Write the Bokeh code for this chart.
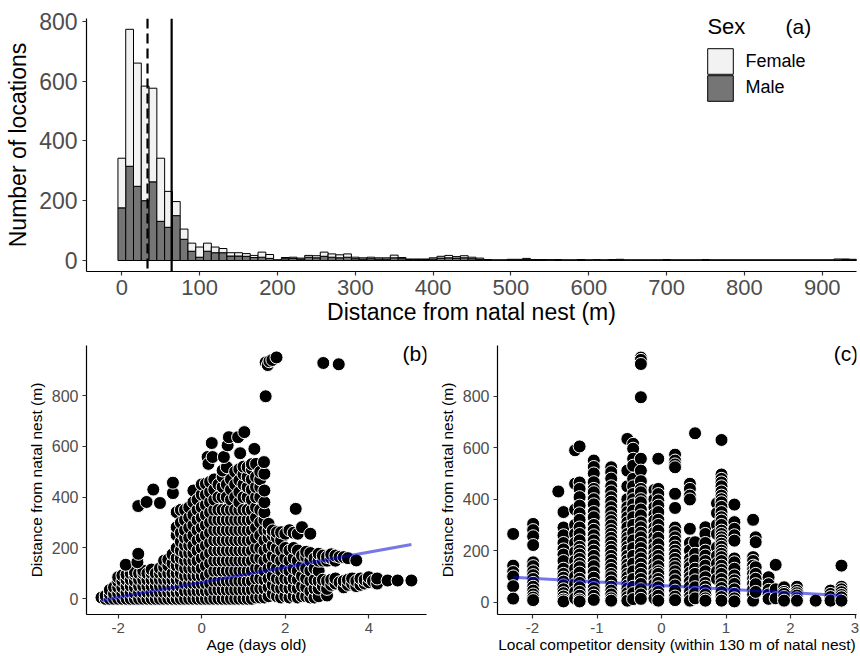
from bokeh.plotting import figure
from bokeh.models import Range1d, Span, Legend, LegendItem, Label, FixedTicker
from bokeh.layouts import column, row
from bokeh.embed import file_html
from bokeh.resources import INLINE

FONT = "Liberation Sans"
TICK_GRAY = "#4D4D4D"

# ---------------- Panel (a): stacked histogram ----------------
a_bin_centers = list(range(0, 950, 10))
a_female = [166, 458, 412, 383, 313, 211, 120, 47, 34, 27,
            34, 27, 19, 14, 11, 11, 9, 7, 17, 13,
            1, 4, 4, 3, 6, 7, 14, 11, 10, 11,
            5, 4, 5, 4, 4, 9, 4, 2, 2, 2,
            4, 6, 8, 5, 7, 5, 4, 1, 1, 1,
            2, 2, 4, 1, 1, 2, 1, 1, 1, 1,
            1, 2, 1, 1, 2, 1, 1, 1, 1, 1,
            1, 1, 1, 1, 1, 1, 1, 1, 1, 1,
            1, 1, 1, 1, 1, 1, 1, 1, 1, 1,
            1, 1, 3, 2, 2]
a_male = [176, 315, 248, 200, 263, 131, 111, 150, 71, 31,
          11, 31, 26, 26, 15, 15, 14, 10, 11, 7,
          1, 6, 7, 5, 11, 9, 14, 11, 9, 11,
          6, 5, 6, 5, 5, 9, 6, 3, 3, 3,
          5, 8, 9, 8, 9, 6, 4, 2, 1, 1,
          2, 2, 3, 2, 2, 1, 2, 1, 1, 2,
          1, 1, 1, 2, 2, 1, 1, 1, 1, 1,
          2, 1, 1, 1, 1, 2, 1, 1, 1, 1,
          1, 1, 1, 1, 1, 1, 1, 1, 1, 1,
          1, 1, 2, 3, 2]
a_binwidth = 10
a_median = 33
a_mean = 64
a_xticks = [0, 100, 200, 300, 400, 500, 600, 700, 800, 900]
a_yticks = [0, 200, 400, 600, 800]
a_sex = ["Female", "Male"]
a_fill = ["#F2F2F2", "#757575"]

# ---------------- Panel (b): age scatter ----------------
b_col_x = [-2.4, -2.3, -2.2, -2.1, -2.0, -1.9, -1.8, -1.7, -1.6, -1.5,
           -1.4, -1.3, -1.2, -1.1, -1.0, -0.9, -0.8, -0.7, -0.6, -0.5,
           -0.4, -0.3, -0.2, -0.1, 0.0, 0.1, 0.2, 0.3, 0.4, 0.5,
           0.6, 0.7, 0.8, 0.9, 1.0, 1.1, 1.2, 1.3, 1.4, 1.5,
           1.6, 1.7, 1.8, 1.9, 2.0, 2.1, 2.2, 2.3, 2.4, 2.5,
           2.6, 2.7, 2.8, 2.9, 3.0, 3.1, 3.2, 3.3, 3.4, 3.5,
           3.6, 3.7, 3.8, 3.9, 4.0, 4.1, 4.2, 4.45, 4.69, 5.02]
b_col_y = [
    [5], [0, 12], [0, 18, 35], [0, 20, 45], [0, 22, 45, 68, 85],
    [0, 22, 45, 70, 92], [0, 25, 50, 75, 95], [0, 25, 50, 75, 100],
    [0, 22, 45, 70, 95, 105], [0, 25, 50, 75, 100],
    [0, 25, 50, 75, 100, 110], [0, 25, 50, 75, 100], [0, 25, 50, 75, 100, 115],
    [0, 25, 50, 75, 100], [0, 25, 50, 75, 100, 120],
    [0, 25, 50, 75, 100, 125, 150], [0, 25, 50, 75, 100, 130, 155],
    [0, 25, 50, 75, 100, 140, 175],
    [0, 25, 50, 75, 100, 130, 160, 200, 250, 282, 341],
    [0, 25, 50, 75, 100, 130, 160, 190, 225, 260, 300, 350],
    [0, 30, 60, 90, 120, 150, 180, 210, 240, 270, 310, 350],
    [0, 30, 60, 90, 120, 150, 180, 210, 240, 280, 320, 360],
    [0, 30, 60, 90, 120, 150, 180, 210, 250, 290, 330, 380, 426],
    [0, 30, 60, 90, 120, 150, 190, 230, 270, 310, 350, 390],
    [0, 30, 60, 90, 120, 160, 200, 240, 280, 320, 360, 410, 450],
    [0, 30, 60, 90, 130, 170, 210, 250, 290, 330, 370, 410, 453],
    [0, 30, 60, 100, 140, 180, 220, 260, 300, 340, 380, 420, 460],
    [0, 35, 70, 110, 150, 190, 230, 270, 310, 350, 390, 430, 470],
    [0, 35, 70, 110, 150, 190, 230, 270, 310, 350, 400, 450],
    [0, 35, 70, 110, 150, 190, 230, 270, 310, 350, 400, 440, 480, 505],
    [0, 35, 70, 110, 150, 190, 230, 270, 310, 350, 400, 450, 518],
    [0, 35, 70, 110, 150, 190, 230, 270, 310, 350, 390, 430, 470],
    [0, 35, 70, 110, 150, 190, 230, 270, 310, 350, 400, 450, 500],
    [0, 35, 70, 110, 150, 190, 230, 270, 310, 350, 380, 420, 466, 510],
    [0, 35, 70, 110, 150, 190, 230, 270, 310, 350, 400, 450, 490, 520],
    [0, 35, 70, 110, 150, 190, 230, 270, 310, 350, 400, 440, 480, 518],
    [0, 35, 70, 110, 150, 190, 230, 270, 310, 350, 390, 430, 470, 510, 530],
    [5, 40, 80, 120, 160, 200, 240, 280, 320, 360, 400, 440, 480, 531],
    [5, 40, 80, 120, 160, 200, 250, 300, 350, 400, 440, 470, 500],
    [5, 40, 75, 110, 150, 190, 230, 270, 310, 340, 380, 426, 492],
    [10, 45, 80, 120, 160, 200, 240, 270, 295],
    [20, 55, 90, 130, 170, 210, 250, 269],
    [10, 45, 80, 120, 160, 200, 240, 262],
    [5, 40, 75, 110, 150, 190, 230, 262],
    [10, 45, 80, 120, 160, 200, 256],
    [5, 40, 75, 110, 150, 190, 270],
    [10, 45, 80, 120, 160, 200, 260],
    [5, 40, 75, 110, 150, 190, 256],
    [10, 50, 90, 130, 170, 282],
    [10, 45, 80, 120, 165, 185],
    [5, 30, 70, 110, 150, 180, 256],
    [5, 40, 75, 120, 160],
    [10, 40, 70, 110, 150, 177],
    [50, 75, 150, 170],
    [13, 39, 70, 150, 165],
    [55, 75, 160, 175],
    [60, 80, 150, 170],
    [65, 165],
    [45, 70, 164],
    [55, 75, 160],
    [60, 80],
    [50, 70, 151],
    [55, 80],
    [60, 75],
    [65, 85],
    [70],
    [60, 80],
    [72], [72], [72]]
b_out_x = [-1.82, -1.54, -1.52, -1.52, -1.32, -1.16, -1.0, -0.69, -0.69,
           0.14, 0.16, 0.24, 0.26, 0.53, 0.62, 0.65, 0.87, 0.92, 1.02, 1.26,
           1.49, 1.53, 1.53, 1.58, 1.62, 1.69, 1.79, 2.25, 2.91, 3.28]
b_out_y = [134, 144, 177, 365, 381, 430, 377, 416, 457,
           558, 531, 613, 558, 558, 604, 636, 636, 573, 656, 590,
           538, 797, 930, 920, 935, 940, 950, 354, 928, 923]
b_fit_x = [-2.42, 5.02]
b_fit_y = [-7, 214]
b_xticks = [-2, 0, 2, 4]
b_yticks = [0, 200, 400, 600, 800]

# ---------------- Panel (c): competitor density scatter ----------------
c_col_x = [-2.30, -1.99, -1.60, -1.52, -1.34, -1.27, -1.05, -0.78, -0.53, -0.44,
           -0.32, -0.11, -0.05, 0.21, 0.44, 0.52, 0.68, 0.86, 0.93, 1.13,
           1.42, 1.46, 1.66, 1.77, 1.90, 2.10, 2.39, 2.62, 2.79]
c_col_y = [
    [265, 142, 117, 100, 62, 14],
    [304, 280, 256, 222, 155, 140, 120, 105, 90, 75, 60, 45, 30, 18, 8],
    [430],
    [350, 290, 260, 230, 205, 185, 160, 130, 110, 95, 80, 65, 50, 35, 22, 10, 3],
    [590, 460, 360, 300, 265, 230, 195, 160, 130, 100, 70, 40, 15],
    [605, 465, 440, 408, 375, 345, 320, 290, 265, 240, 215, 200, 185, 168, 150,
     136, 115, 91, 75, 58, 40, 25, 10, 3],
    [550, 525, 500, 466, 440, 427, 400, 380, 350, 330, 300, 281, 260, 240, 220,
     200, 180, 159, 140, 116, 95, 71, 55, 39, 25, 9],
    [524, 505, 480, 450, 430, 408, 390, 369, 350, 330, 315, 298, 280, 265, 250,
     233, 215, 200, 180, 164, 145, 129, 110, 97, 80, 60, 45, 30, 15, 6],
    [634, 511, 450, 400, 369, 350, 330, 310, 291, 265, 250, 233, 215, 200, 180,
     162, 145, 129, 110, 97, 80, 65, 52, 35, 20, 6],
    [615, 596, 557, 530, 479, 450, 420, 400, 380, 356, 330, 300, 270, 240, 210,
     180, 150, 120, 90, 60, 35, 12],
    [950, 941, 925, 796, 557, 511, 470, 440, 427, 400, 388, 360, 337, 310, 291,
     270, 252, 230, 210, 188, 170, 149, 130, 110, 90, 71, 50, 30, 13],
    [436, 400, 369, 340, 317, 290, 270, 252, 230, 210, 188, 170, 150, 130, 110,
     90, 70, 50, 32, 15],
    [557, 440, 420, 395, 375, 350, 320, 300, 278, 250, 225, 200, 180, 162, 140,
     120, 110, 90, 75, 58, 40, 25, 6],
    [573, 550, 535, 524, 421, 366, 290, 272, 252, 235, 216, 200, 185, 168, 150,
     136, 120, 104, 85, 65, 45, 22, 8],
    [460, 440, 414, 399, 285, 230, 200, 168, 150, 136, 115, 97, 80, 60, 39, 20, 6],
    [656, 233, 188, 162, 130, 110, 85, 58, 35, 15],
    [291, 265, 230, 200, 181, 160, 142, 120, 97, 75, 60, 45, 30, 15, 6],
    [384, 346, 300, 265, 213, 180, 150, 120, 90],
    [630, 496, 479, 465, 450, 430, 414, 400, 388, 370, 350, 330, 317, 300, 278,
     265, 252, 240, 227, 215, 200, 188, 175, 160, 142, 125, 110, 90, 71, 55, 39, 20, 6],
    [379, 311, 285, 260, 239, 170, 155, 130, 104, 85, 71, 50, 32, 15, 3],
    [320, 175, 160, 142, 125, 110, 90, 71, 50, 30, 6],
    [252, 233, 136, 110, 91, 70, 40],
    [97, 70, 48, 30, 13],
    [145, 50, 15],
    [58, 40, 32, 20, 6],
    [60, 45, 35, 26, 15, 6],
    [6],
    [45, 32, 20, 6],
    [142, 60, 50, 39, 28, 19, 6]]
c_fit_x = [-2.30, 2.79]
c_fit_y = [97, 26]
c_xticks = [-2, -1, 0, 1, 2, 3]
c_yticks = [0, 200, 400, 600, 800]


def style_axes(p, tick_size, title_size, x_standoff, y_standoff, x_title_standoff, y_title_standoff):
    for ax in (p.xaxis[0], p.yaxis[0]):
        ax.axis_line_color = "black"
        ax.axis_line_width = 1.2
        ax.major_tick_line_color = "#333333"
        ax.major_tick_line_width = 1.2
        ax.major_tick_in = 0
        ax.major_tick_out = 4
        ax.minor_tick_line_color = None
        ax.major_label_text_font = FONT
        ax.major_label_text_color = TICK_GRAY
        ax.axis_label_text_font = FONT
        ax.axis_label_text_font_style = "normal"
        ax.axis_label_text_color = "black"
        ax.axis_label_text_font_size = title_size
    p.xaxis[0].major_label_text_font_size = tick_size[0]
    p.yaxis[0].major_label_text_font_size = tick_size[1]
    p.xaxis[0].major_label_standoff = x_standoff
    p.yaxis[0].major_label_standoff = y_standoff
    p.xaxis[0].axis_label_standoff = x_title_standoff
    p.yaxis[0].axis_label_standoff = y_title_standoff
    p.xgrid.grid_line_color = None
    p.ygrid.grid_line_color = None
    p.outline_line_color = None
    p.background_fill_color = "white"
    p.border_fill_color = "white"


def minus_labels(ticks):
    return {t: str(t) for t in ticks if t < 0}


# ---------------- build panel (a) ----------------
p1 = figure(width=860, height=330, output_backend="svg", toolbar_location=None,
            x_range=Range1d(-45.4, 944), y_range=Range1d(-36.8, 809.1),
            min_border_left=86, min_border_right=4, min_border_top=18, min_border_bottom=59)
left = [c - a_binwidth / 2 for c in a_bin_centers]
right = [c + a_binwidth / 2 for c in a_bin_centers]
tot = [m + f for m, f in zip(a_male, a_female)]
rm = p1.quad(left=left, right=right, bottom=[0] * len(a_male), top=a_male,
             fill_color=a_fill[1], line_color="black", line_width=1)
rf = p1.quad(left=left, right=right, bottom=a_male, top=tot,
             fill_color=a_fill[0], line_color="black", line_width=1)
p1.add_layout(Span(location=a_median, dimension="height", line_color="black",
                   line_width=2.2, line_dash="10 5"))
p1.add_layout(Span(location=a_mean, dimension="height", line_color="black", line_width=2.2))
p1.xaxis.ticker = FixedTicker(ticks=a_xticks)
p1.yaxis.ticker = FixedTicker(ticks=a_yticks)
p1.xaxis.axis_label = "Distance from natal nest (m)"
p1.yaxis.axis_label = "Number of locations"
style_axes(p1, ("22px", "23px"), "23px", 4, 5, 1, 5)

legend_style = dict(label_text_font=FONT, label_text_font_size="18px", label_text_color="black",
                    glyph_width=32, glyph_height=32, label_standoff=10, spacing=0,
                    padding=0, margin=0, border_line_color=None, background_fill_alpha=0)
legend_f = Legend(items=[LegendItem(label=a_sex[0], renderers=[rf])],
                  location=(617.5, 193.9), **legend_style)
legend_m = Legend(items=[LegendItem(label=a_sex[1], renderers=[rm])],
                  location=(617.5, 167.2), **legend_style)
p1.add_layout(legend_f)
p1.add_layout(legend_m)
p1.add_layout(Label(x=752.4, y=781, text="Sex", text_font=FONT, text_font_size="22px",
                    text_align="left", text_baseline="middle", text_color="black"))
p1.add_layout(Label(x=869.3, y=781, text="(a)", text_font=FONT, text_font_size="21px",
                    text_align="center", text_baseline="middle", text_color="black"))

# ---------------- build panel (b) ----------------
bx = [x for x, ys in zip(b_col_x, b_col_y) for _ in ys] + b_out_x
by = [y for ys in b_col_y for y in ys] + b_out_y
p2 = figure(width=430, height=326, output_backend="svg", toolbar_location=None,
            x_range=Range1d(-2.759, 5.381), y_range=Range1d(-61.8, 996.9),
            min_border_left=86, min_border_right=4, min_border_top=15, min_border_bottom=42)
p2.scatter(bx, by, size=13, marker="circle", fill_color="black", line_color="white", line_width=1)
p2.line(b_fit_x, b_fit_y, line_color="#0A0ACF", line_alpha=0.55, line_width=3)
p2.xaxis.ticker = FixedTicker(ticks=b_xticks)
p2.yaxis.ticker = FixedTicker(ticks=b_yticks)
p2.xaxis.major_label_overrides = minus_labels(b_xticks)
p2.xaxis.axis_label = "Age (days old)"
p2.yaxis.axis_label = "Distance from natal nest (m)"
style_axes(p2, ("15px", "16px"), "15.5px", 4, 4, 0, 4)
p2.add_layout(Label(x=5.42, y=964, text="(b)", text_font=FONT, text_font_size="21px",
                    text_align="right", text_baseline="middle", text_color="black"))

# ---------------- build panel (c) ----------------
cx = [x for x, ys in zip(c_col_x, c_col_y) for _ in ys]
cy = [y for ys in c_col_y for y in ys]
p3 = figure(width=430, height=326, output_backend="svg", toolbar_location=None,
            x_range=Range1d(-2.543, 3.023), y_range=Range1d(-47.8, 996.9),
            min_border_left=67, min_border_right=4, min_border_top=15, min_border_bottom=42)
p3.scatter(cx, cy, size=13, marker="circle", fill_color="black", line_color="white", line_width=1)
p3.line(c_fit_x, c_fit_y, line_color="#0A0ACF", line_alpha=0.55, line_width=3)
p3.xaxis.ticker = FixedTicker(ticks=c_xticks)
p3.yaxis.ticker = FixedTicker(ticks=c_yticks)
p3.xaxis.major_label_overrides = minus_labels(c_xticks)
p3.xaxis.axis_label = "Local competitor density (within 130 m of natal nest)"
p3.yaxis.axis_label = "Distance from natal nest (m)"
style_axes(p3, ("15px", "16px"), "15.5px", 4, 4, 0, 4)
p3.add_layout(Label(x=3.05, y=964.7, text="(c)", text_font=FONT, text_font_size="21px",
                    text_align="right", text_baseline="middle", text_color="black"))

layout = column(p1, row(p2, p3))
open("out.html", "w").write(file_html(layout, INLINE))
